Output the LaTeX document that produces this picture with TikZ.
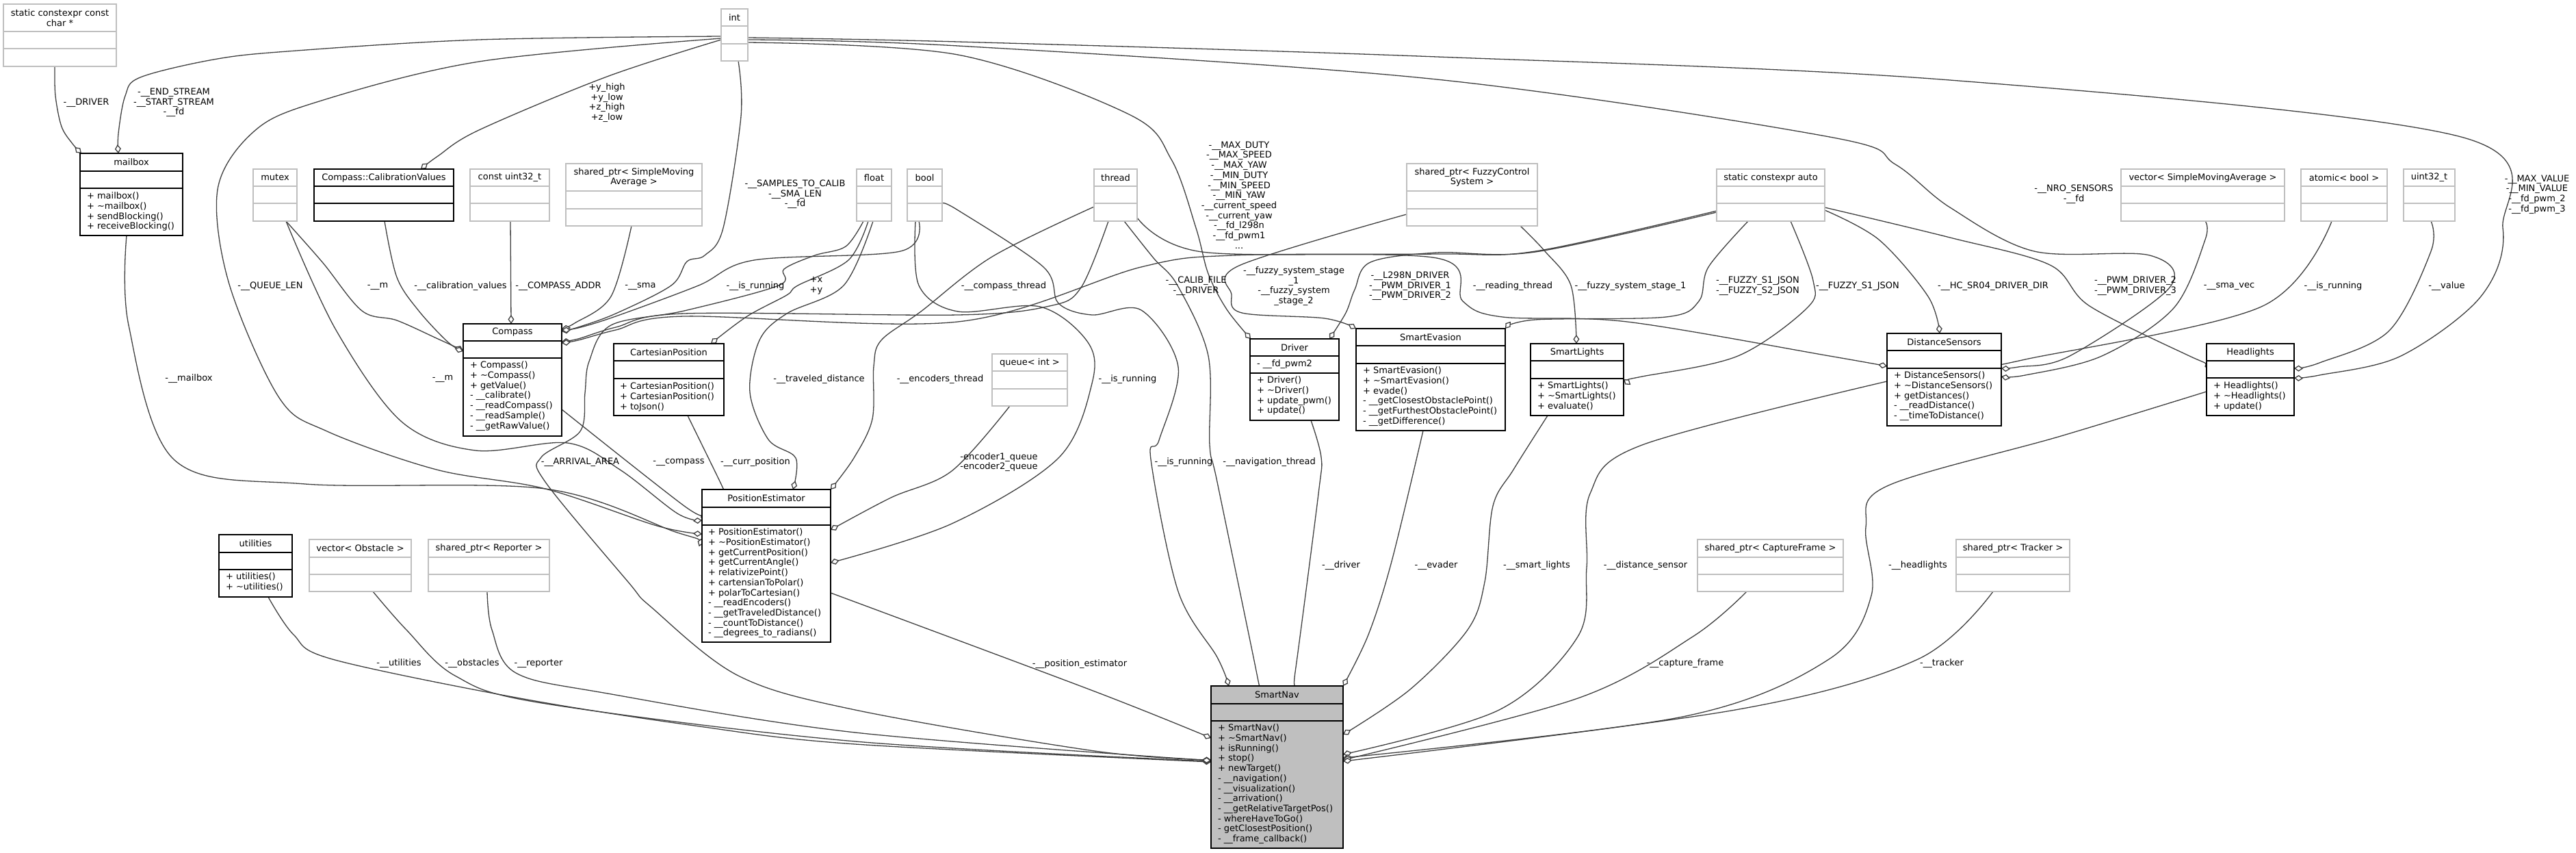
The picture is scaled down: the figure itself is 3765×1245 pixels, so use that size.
\documentclass[tikz,border=0pt]{standalone}
\usepackage{fontspec}
\setmainfont{DejaVu Sans}
\usetikzlibrary{arrows.meta,calc}
\definecolor{gB}{HTML}{BFBFBF}
\definecolor{gD}{HTML}{404040}
\pgfdeclarelayer{bg}
\pgfsetlayers{bg,main}
\tikzset{
 boxc/.style={draw=black,fill=white,line width=1.8pt,inner sep=0pt,outer sep=0pt},
 boxg/.style={draw=gB,fill=white,line width=1.8pt,inner sep=0pt,outer sep=0pt},
 boxn/.style={draw=black,fill=gB,line width=1.8pt,inner sep=0pt,outer sep=0pt},
 sepc/.style={draw=black,line width=1.8pt},
 sepg/.style={draw=gB,line width=1.8pt},
 sepn/.style={draw=black,line width=1.8pt},
 txt/.style={font=\fontsize{13}{14.7}\selectfont,inner sep=0pt,outer sep=0pt},
 ttl/.style={txt,align=center,anchor=center},
 mth/.style={txt,align=left,anchor=north west},
 lbl/.style={txt,align=center,anchor=center},
 conn/.style={draw=gD,line width=1.3pt,line join=round,-{Diamond[fill=white,length=13pt,width=9pt]}},
}
\newcommand{\ubox}[8]{%
 \node[box#2,anchor=north west,minimum width=#5pt,minimum height=#6pt] (#1) at (#3,#4) {};
 \draw[sep#2] (#3,#4+#7) -- (#3+#5,#4+#7);
 \draw[sep#2] (#3,#4+#8) -- (#3+#5,#4+#8);
}
\newcommand{\cpl}[1]{\draw[conn] plot[smooth,tension=0.55] coordinates {#1};}
\begin{document}
\begin{tikzpicture}[x=1pt,y=-1pt]
\useasboundingbox (0,0) rectangle (3765,1245);
% ---------------- boxes ----------------
\ubox{static}{g}{5}{6}{165}{91}{40}{65}
\node[ttl] (static-t) at (87.5,26) {static constexpr const\\char *};
\ubox{mailbox}{c}{117}{224}{150}{120}{26}{51}
\node[ttl] (mailbox-t) at (192,237) {mailbox};
\node[mth] (mailbox-m) at (127,281) {+ mailbox()\\+ \textasciitilde mailbox()\\+ sendBlocking()\\+ receiveBlocking()};
\ubox{mutex}{g}{370}{247}{64}{76}{25}{50}
\node[ttl] (mutex-t) at (402,259.5) {mutex};
\ubox{calval}{c}{459}{247}{204}{76}{25}{50}
\node[ttl] (calval-t) at (561,259.5) {Compass::CalibrationValues};
\ubox{cu32}{g}{687}{247}{116}{76}{25}{50}
\node[ttl] (cu32-t) at (745,259.5) {const uint32\_t};
\ubox{sma}{g}{827}{239}{199}{91}{40}{66}
\node[ttl] (sma-t) at (926.5,259) {shared\_ptr< SimpleMoving\\Average >};
\ubox{int}{g}{1054}{13}{39}{76}{25}{51}
\node[ttl] (int-t) at (1073.5,25.5) {int};
\ubox{float}{g}{1252}{247}{51}{76}{25}{50}
\node[ttl] (float-t) at (1277.5,259.5) {float};
\ubox{bool}{g}{1326}{247}{51}{76}{25}{50}
\node[ttl] (bool-t) at (1351.5,259.5) {bool};
\ubox{thread}{g}{1599}{247}{63}{76}{25}{50}
\node[ttl] (thread-t) at (1630.5,259.5) {thread};
\ubox{fuzzy}{g}{2056}{239}{191}{91}{40}{66}
\node[ttl] (fuzzy-t) at (2151.5,259) {shared\_ptr< FuzzyControl\\System >};
\ubox{sauto}{g}{2509}{247}{158}{76}{25}{50}
\node[ttl] (sauto-t) at (2588,259.5) {static constexpr auto};
\ubox{vsma}{g}{3100}{247}{239}{76}{25}{50}
\node[ttl] (vsma-t) at (3219.5,259.5) {vector< SimpleMovingAverage >};
\ubox{atomic}{g}{3363}{247}{126}{76}{25}{50}
\node[ttl] (atomic-t) at (3426,259.5) {atomic< bool >};
\ubox{u32}{g}{3513}{247}{75}{76}{25}{50}
\node[ttl] (u32-t) at (3550.5,259.5) {uint32\_t};

\ubox{compass}{c}{677}{473}{144}{164}{25}{50}
\node[ttl] (compass-t) at (749,485.5) {Compass};
\node[mth] (compass-m) at (687,528) {+ Compass()\\+ \textasciitilde Compass()\\+ getValue()\\- \_\_calibrate()\\- \_\_readCompass()\\- \_\_readSample()\\- \_\_getRawValue()};
\ubox{cart}{c}{897}{502}{161}{105}{25}{51}
\node[ttl] (cart-t) at (977.5,514.5) {CartesianPosition};
\node[mth] (cart-m) at (906,559) {+ CartesianPosition()\\+ CartesianPosition()\\+ toJson()};
\ubox{queue}{g}{1450}{517}{110}{76}{25}{51}
\node[ttl] (queue-t) at (1505,529.5) {queue< int >};
\ubox{pe}{c}{1026}{715}{188}{223}{26}{52}
\node[ttl] (pe-t) at (1120,728) {PositionEstimator};
\node[mth] (pe-m) at (1035,772) {+ PositionEstimator()\\+ \textasciitilde PositionEstimator()\\+ getCurrentPosition()\\+ getCurrentAngle()\\+ relativizePoint()\\+ cartensianToPolar()\\+ polarToCartesian()\\- \_\_readEncoders()\\- \_\_getTraveledDistance()\\- \_\_countToDistance()\\- \_\_degrees\_to\_radians()};
\ubox{driver}{c}{1827}{495}{130}{119}{25}{50}
\node[ttl] (driver-t) at (1892,507.5) {Driver};
\node[mth] (driver-a) at (1837,526) {- \_\_fd\_pwm2};
\node[mth] (driver-m) at (1837,550) {+ Driver()\\+ \textasciitilde Driver()\\+ update\_pwm()\\+ update()};
\ubox{sevasion}{c}{1982}{480}{218}{149}{25}{51}
\node[ttl] (sevasion-t) at (2091,492.5) {SmartEvasion};
\node[mth] (sevasion-m) at (1992,536) {+ SmartEvasion()\\+ \textasciitilde SmartEvasion()\\+ evade()\\- \_\_getClosestObstaclePoint()\\- \_\_getFurthestObstaclePoint()\\- \_\_getDifference()};
\ubox{slights}{c}{2237}{502}{136}{105}{25}{51}
\node[ttl] (slights-t) at (2305,514.5) {SmartLights};
\node[mth] (slights-m) at (2247,558) {+ SmartLights()\\+ \textasciitilde SmartLights()\\+ evaluate()};
\ubox{dsens}{c}{2758}{487}{167}{135}{25}{51}
\node[ttl] (dsens-t) at (2841.5,499.5) {DistanceSensors};
\node[mth] (dsens-m) at (2768,543) {+ DistanceSensors()\\+ \textasciitilde DistanceSensors()\\+ getDistances()\\- \_\_readDistance()\\- \_\_timeToDistance()};
\ubox{head}{c}{3225}{502}{128}{105}{25}{50}
\node[ttl] (head-t) at (3289,514.5) {Headlights};
\node[mth] (head-m) at (3235,558) {+ Headlights()\\+ \textasciitilde Headlights()\\+ update()};
\ubox{util}{c}{320}{781}{107}{91}{26}{51}
\node[ttl] (util-t) at (373.5,794) {utilities};
\node[mth] (util-m) at (330,837) {+ utilities()\\+ \textasciitilde utilities()};
\ubox{vobst}{g}{452}{788}{149}{76}{26}{51}
\node[ttl] (vobst-t) at (526.5,801) {vector< Obstacle >};
\ubox{reporter}{g}{626}{788}{177}{76}{26}{51}
\node[ttl] (reporter-t) at (714.5,801) {shared\_ptr< Reporter >};
\ubox{capture}{g}{2481}{788}{213}{76}{26}{51}
\node[ttl] (capture-t) at (2587.5,801) {shared\_ptr< CaptureFrame >};
\ubox{tracker}{g}{2859}{788}{166}{76}{26}{51}
\node[ttl] (tracker-t) at (2942,801) {shared\_ptr< Tracker >};
\ubox{snav}{n}{1770}{1002}{193}{237}{26}{51}
\node[ttl] (snav-t) at (1866.5,1015) {SmartNav};
\node[mth] (snav-m) at (1780,1058) {+ SmartNav()\\+ \textasciitilde SmartNav()\\+ isRunning()\\+ stop()\\+ newTarget()\\- \_\_navigation()\\- \_\_visualization()\\- \_\_arrivation()\\- \_\_getRelativeTargetPos()\\- whereHaveToGo()\\- getClosestPosition()\\- \_\_frame\_callback()};

% ---------------- connectors ----------------
\begin{pgfonlayer}{bg}
\fill[white] (0,0) rectangle (3765,1245);
\cpl{($(static.south west)+(75,0)$) (81,140) (90,185) (106,210) ($(mailbox.north west)+(2,0)$)}
\cpl{($(int.north west)+(0,40)$) (700,58) (420,75) (312,87) (205,113) (183,140) (173,195) ($(mailbox.north west)+(56,0)$)}
\cpl{($(int.north west)+(0,45)$) (887,112) (700,190) (640,228) ($(calval.north west)+(156,0)$)}
\cpl{($(int.north west)+(0,43)$) (700,90) (460,150) (370,193) (318,277) (335,415) (408,581) (478,630) (638,686) (797,714) (960,768) ($(pe.north west)+(0,65)$)}
\cpl{($(int.south west)+(25,0)$) (1083,170) (1057,333) (1030,373) (1004,382) (981,417) (900,458) (845,478) ($(compass.north east)+(0,11)$)}
\cpl{($(int.north east)+(0,49)$) (1400,80) (1650,167) (1712,233) (1748,333) (1766,400) (1793,452) ($(driver.north west)+(1,0)$)}
\cpl{($(int.north east)+(0,45)$) (1400,67) (2100,116) (2674,200) (2770,240) (2850,303) (2973,367) (3142,373) (3171,420) (3025,520) (2950,536) ($(dsens.north east)+(0,51)$)}
\cpl{($(int.north east)+(0,42)$) (1400,61) (2100,83) (2850,117) (3597,200) (3658,333) (3626,433) (3509,520) (3390,548) ($(head.north east)+(0,50)$)}
\cpl{($(mutex.south west)+(48,0)$) (472,384) (529,454) (580,468) (640,495) ($(compass.north west)+(0,39)$)}
\cpl{($(calval.south west)+(103,0)$) (580,405) (612,454) (655,500) ($(compass.north west)+(0,40)$)}
\cpl{($(cu32.south west)+(59,0)$) ($(compass.north west)+(70,0)$)}
\cpl{($(sma.south west)+(96,0)$) (893,433) (840,472) ($(compass.north east)+(0,7)$)}
\cpl{($(bool.south west)+(17,0)$) (1316,367) (1102,380) (1021,417) (900,462) (845,479) ($(compass.north east)+(0,9)$)}
\cpl{($(float.south west)+(17,0)$) (1240,380) (1166,417) (1150,431) (1092,462) ($(cart.north west)+(142,0)$)}
\cpl{($(float.south west)+(24,0)$) (1233,417) (1150,458) (1110,497) (1096,573) (1123,642) (1163,669) ($(pe.north west)+(133,0)$)}
\cpl{($(float.south west)+(10,0)$) (1236,360) (1191,373) (1146,393) (1138,417) (1000,454) (893,475) (861,528) (855,574) (848,630) (791,668) (797,704) (918,850) (952,887) (1079,987) (1250,1037) (1600,1097) ($(snav.north west)+(0,108)$)}
\cpl{($(thread.south west)+(21,0)$) (1580,420) (1534,447) (1400,460) (1000,458) (900,478) (845,495) ($(compass.north east)+(0,26)$)}
\cpl{($(thread.north west)+(0,55)$) (1450,375) (1346,455) (1288,497) (1277,535) (1275,612) (1248,669) ($(pe.north east)$)}
\cpl{($(thread.south west)+(44,0)$) (1686,377) (1721,417) (1766,520) (1768,650) (1779,704) (1832,960) ($(snav.north west)+(70,0)$)}
\cpl{($(thread.north east)+(0,71)$) (1757,368) (2100,377) (2138,440) (2196,463) (2378,470) (2674,520) ($(dsens.north west)+(0,48)$)}
\cpl{($(bool.south west)+(12,0)$) (1343,417) (1400,455) (1520,448) (1590,500) (1596,560) (1547,669) (1391,765) ($(pe.north east)+(0,107)$)}
\cpl{($(bool.north east)+(0,50)$) (1400,307) (1525,390) (1547,443) (1596,460) (1668,453) (1722,536) (1694,643) (1682,671) (1722,864) (1779,960) ($(snav.north west)+(26,0)$)}
\cpl{($(compass.north east)+(0,125)$) (1000,739) ($(pe.north west)+(0,33)$)}
\cpl{($(cart.south west)+(108,0)$) (1052,703) ($(pe.north west)+(31,0)$)}
\cpl{($(queue.south west)+(26,0)$) (1391,688) (1302,727) ($(pe.north east)+(0,59)$)}
\cpl{($(mutex.south west)+(48,0)$) (491,482) (587,616) (695,658) (829,647) (906,686) (990,750) ($(pe.north west)+(0,45)$)}
\cpl{($(mailbox.south west)+(68,0)$) (188,475) (255,672) (446,707) (797,714) (990,778) ($(pe.north west)+(0,71)$)}
\cpl{($(sauto.north west)+(0,61)$) (2244,367) (2100,371) (1802,373) (1668,390) (1400,470) (1000,462) (900,482) (845,497) ($(compass.north east)+(0,28)$)}
\cpl{($(sauto.north west)+(0,63)$) (2244,368) (2100,369) (2003,383) (1980,423) (1967,457) ($(driver.north west)+(116,0)$)}
\cpl{($(fuzzy.north west)+(0,74)$) (1811,388) (1800,430) (1815,457) (1936,465) ($(sevasion.north west)$)}
\cpl{($(sauto.south west)+(46,0)$) (2497,390) (2483,440) (2435,463) (2244,467) ($(sevasion.north east)$)}
\cpl{($(fuzzy.south west)+(166,0)$) (2258,367) (2296,417) ($(slights.north west)+(67,0)$)}
\cpl{($(sauto.south west)+(108,0)$) (2650,410) (2641,450) (2540,520) (2400,550) ($(slights.north east)+(0,52)$)}
\cpl{($(sauto.north east)+(0,60)$) (2746,350) (2818,433) ($(dsens.north west)+(77,0)$)}
\cpl{($(sauto.north east)+(0,56)$) (2850,347) (2996,387) (3054,447) (3200,520) ($(head.north west)+(0,26)$)}
\cpl{($(vsma.south west)+(123,0)$) (3223,350) (3177,450) (3072,520) (2960,548) ($(dsens.north east)+(0,63)$)}
\cpl{($(atomic.south west)+(45,0)$) (3305,448) (2960,525) ($(dsens.north east)+(0,45)$)}
\cpl{($(u32.south west)+(40,0)$) (3553,367) (3492,483) (3390,530) ($(head.north east)+(0,36)$)}
\cpl{($(driver.south west)+(89,0)$) (1931,668) (1927,721) (1896,960) ($(snav.north west)+(119,0)$)}
\cpl{($(sevasion.south west)+(98,0)$) (2034,820) (2000,927) ($(snav.north east)$)}
\cpl{($(slights.south west)+(25,0)$) (2212,686) (2182,739) (2170,850) (2145,920) (2061,1007) ($(snav.north east)+(0,71)$)}
\cpl{($(dsens.north west)+(0,70)$) (2400,650) (2324,721) (2319,829) (2306,930) (2191,1037) ($(snav.north east)+(0,100)$)}
\cpl{($(head.north west)+(0,70)$) (3012,637) (2758,710) (2727,770) (2735,870) (2673,963) (2459,1047) ($(snav.north east)+(0,105)$)}
\cpl{($(capture.south west)+(72,0)$) (2474,930) (2306,1020) ($(snav.north east)+(0,108)$)}
\cpl{($(tracker.south west)+(54,0)$) (2803,963) (2536,1037) ($(snav.north east)+(0,110)$)}
\cpl{($(util.south west)+(72,0)$) (429,927) (486,963) (760,1020) (1015,1060) (1250,1087) ($(snav.north west)+(0,111)$)}
\cpl{($(vobst.south west)+(93,0)$) (594,920) (665,987) (792,1027) (1250,1083) ($(snav.north west)+(0,110)$)}
\cpl{($(reporter.south west)+(86,0)$) (719,920) (754,983) (888,1013) (1250,1070) ($(snav.north west)+(0,109)$)}
\cpl{($(pe.north east)+(0,151)$) (1600,1010) ($(snav.north west)+(0,76)$)}
\end{pgfonlayer}

% ---------------- labels ----------------
\node[lbl] (l01) at (126,150) {-\_\_DRIVER};
\node[lbl] (l02) at (254,150) {-\_\_END\_STREAM\\-\_\_START\_STREAM\\-\_\_fd};
\node[lbl] (l03) at (887,150) {+y\_high\\+y\_low\\+z\_high\\+z\_low};
\node[lbl] (l04) at (1162,284) {-\_\_SAMPLES\_TO\_CALIB\\-\_\_SMA\_LEN\\-\_\_fd};
\node[lbl] (l05) at (1811,285) {-\_\_MAX\_DUTY\\-\_\_MAX\_SPEED\\-\_\_MAX\_YAW\\-\_\_MIN\_DUTY\\-\_\_MIN\_SPEED\\-\_\_MIN\_YAW\\-\_\_current\_speed\\-\_\_current\_yaw\\-\_\_fd\_l298n\\-\_\_fd\_pwm1\\...};
\node[lbl] (l06) at (3031,284) {-\_\_NRO\_SENSORS\\-\_\_fd};
\node[lbl] (l07) at (3708,284) {-\_\_MAX\_VALUE\\-\_\_MIN\_VALUE\\-\_\_fd\_pwm\_2\\-\_\_fd\_pwm\_3};
\node[lbl] (l08) at (395,418) {-\_\_QUEUE\_LEN};
\node[lbl] (l09) at (552,418) {-\_\_m};
\node[lbl] (l10) at (673,418) {-\_\_calibration\_values};
\node[lbl] (l11) at (816,418) {-\_\_COMPASS\_ADDR};
\node[lbl] (l12) at (936,418) {-\_\_sma};
\node[lbl] (l13) at (1104,418) {-\_\_is\_running};
\node[lbl] (l14) at (1193,417) {+x\\+y};
\node[lbl] (l15) at (1467,418) {-\_\_compass\_thread};
\node[lbl] (l16) at (1748,418) {-\_\_CALIB\_FILE\\-\_\_DRIVER};
\node[lbl] (l17) at (1891,418) {-\_\_fuzzy\_system\_stage\\\_1\\-\_\_fuzzy\_system\hspace*{50pt}\\\_stage\_2};
\node[lbl] (l18) at (2061,418) {-\_\_L298N\_DRIVER\\-\_\_PWM\_DRIVER\_1\\-\_\_PWM\_DRIVER\_2};
\node[lbl] (l19) at (2211,418) {-\_\_reading\_thread};
\node[lbl] (l20) at (2383,418) {-\_\_fuzzy\_system\_stage\_1};
\node[lbl] (l21) at (2569,418) {-\_\_FUZZY\_S1\_JSON\\-\_\_FUZZY\_S2\_JSON};
\node[lbl] (l22) at (2715,418) {-\_\_FUZZY\_S1\_JSON};
\node[lbl] (l23) at (2913,418) {-\_\_HC\_SR04\_DRIVER\_DIR};
\node[lbl] (l24) at (3121,418) {-\_\_PWM\_DRIVER\_2\\-\_\_PWM\_DRIVER\_3};
\node[lbl] (l25) at (3258,418) {-\_\_sma\_vec};
\node[lbl] (l26) at (3410,418) {-\_\_is\_running};
\node[lbl] (l27) at (3576,418) {-\_\_value};
\node[lbl] (l28) at (276,553) {-\_\_mailbox};
\node[lbl] (l29) at (647,553) {-\_\_m};
\node[lbl] (l30) at (1197,554) {-\_\_traveled\_distance};
\node[lbl] (l31) at (1374,554) {-\_\_encoders\_thread};
\node[lbl] (l32) at (1648,554) {-\_\_is\_running};
\node[lbl] (l33) at (848,675) {-\_\_ARRIVAL\_AREA};
\node[lbl] (l34) at (992,675) {-\_\_compass};
\node[lbl] (l35) at (1104,675) {-\_\_curr\_position};
\node[lbl] (l36) at (1460,675) {-encoder1\_queue\\-encoder2\_queue};
\node[lbl] (l37) at (1730,675) {-\_\_is\_running};
\node[lbl] (l38) at (1855,675) {-\_\_navigation\_thread};
\node[lbl] (l39) at (1960,826) {-\_\_driver};
\node[lbl] (l40) at (2099,826) {-\_\_evader};
\node[lbl] (l41) at (2246,826) {-\_\_smart\_lights};
\node[lbl] (l42) at (2405,826) {-\_\_distance\_sensor};
\node[lbl] (l43) at (2803,826) {-\_\_headlights};
\node[lbl] (l44) at (583,969) {-\_\_utilities};
\node[lbl] (l45) at (690,969) {-\_\_obstacles};
\node[lbl] (l46) at (787,969) {-\_\_reporter};
\node[lbl] (l47) at (1578,970) {-\_\_position\_estimator};
\node[lbl] (l48) at (2463,969) {-\_\_capture\_frame};
\node[lbl] (l49) at (2838,969) {-\_\_tracker};
\end{tikzpicture}
\end{document}
